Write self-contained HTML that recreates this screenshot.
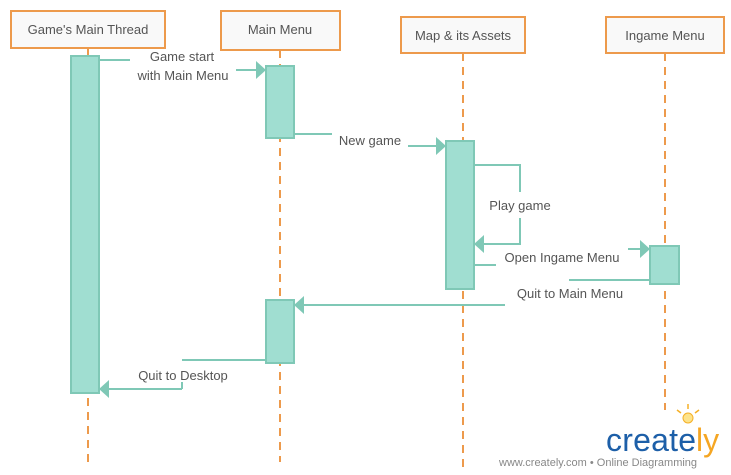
<!DOCTYPE html>
<html><head><style>body{margin:0;background:#fff}svg{display:block}text{font-family:"Liberation Sans",sans-serif;font-size:13px;fill:#555}</style></head><body>
<svg width="731" height="475" viewBox="0 0 731 475">
<g stroke="#ed9a4c" stroke-width="2" stroke-dasharray="8,6" fill="none">
<line x1="88" y1="48" x2="88" y2="462"/><line x1="280" y1="50" x2="280" y2="462"/>
<line x1="463" y1="53" x2="463" y2="468"/><line x1="665" y1="53" x2="665" y2="410"/>
</g>
<g fill="#f9f9f9" stroke="#ed9a4c" stroke-width="2">
<rect x="11" y="11" width="154" height="37"/><rect x="221" y="11" width="119" height="39"/>
<rect x="401" y="17" width="124" height="36"/><rect x="606" y="17" width="118" height="36"/>
</g>
<g text-anchor="middle"><text x="88" y="34">Game's Main Thread</text><text x="280" y="34">Main Menu</text><text x="463" y="40">Map &amp; its Assets</text><text x="665" y="40">Ingame Menu</text></g>
<g fill="#a0ded1" stroke="#7fc8b6" stroke-width="2">
<rect x="71" y="56" width="28" height="337"/><rect x="266" y="66" width="28" height="72"/>
<rect x="446" y="141" width="28" height="148"/><rect x="650" y="246" width="29" height="38"/>
<rect x="266" y="300" width="28" height="63"/>
</g>
<g stroke="#7fc8b6" stroke-width="2" fill="none">
<line x1="99" y1="60" x2="130" y2="60"/><line x1="236" y1="70" x2="258" y2="70"/>
<line x1="294" y1="134" x2="332" y2="134"/><line x1="408" y1="146" x2="438" y2="146"/>
<polyline points="474,165 520,165 520,192"/><polyline points="520,218 520,244 482,244"/>
<line x1="474" y1="265" x2="496" y2="265"/><line x1="628" y1="249" x2="642" y2="249"/>
<line x1="569" y1="280" x2="650" y2="280"/><line x1="505" y1="305" x2="302" y2="305"/>
<polyline points="266,360 182,360"/><line x1="182" y1="389" x2="107" y2="389"/><line x1="182" y1="389" x2="182" y2="382"/>
</g>
<g fill="#7fc8b6">
<polygon points="256,61 266,70 256,79"/><polygon points="436,137 446,146 436,155"/>
<polygon points="484,235 474,244 484,253"/><polygon points="640,240 650,249 640,258"/>
<polygon points="304,296 294,305 304,314"/><polygon points="109,380 99,389 109,398"/>
</g>
<g text-anchor="middle">
<text x="182" y="61">Game start</text><text x="183" y="80">with Main Menu</text>
<text x="370" y="145">New game</text><text x="520" y="210">Play game</text>
<text x="562" y="262">Open Ingame Menu</text><text x="570" y="298">Quit to Main Menu</text>
<text x="183" y="380">Quit to Desktop</text>
</g>
<g stroke="#f5b027" stroke-width="1.5"><line x1="688" y1="404" x2="688" y2="409"/><line x1="677" y1="410" x2="681" y2="413"/><line x1="699" y1="410" x2="695" y2="413"/></g>
<circle cx="688" cy="418" r="5" fill="#fde38a" stroke="#f5b027"/>
<text x="606" y="451" textLength="90" style="font-size:32px;fill:#1d5fa8">create</text>
<text x="696" y="451" style="font-size:32px;fill:#f5a623">ly</text>
<text x="499" y="466" style="font-size:11px;fill:#888">www.creately.com • Online Diagramming</text>
</svg>
</body></html>
